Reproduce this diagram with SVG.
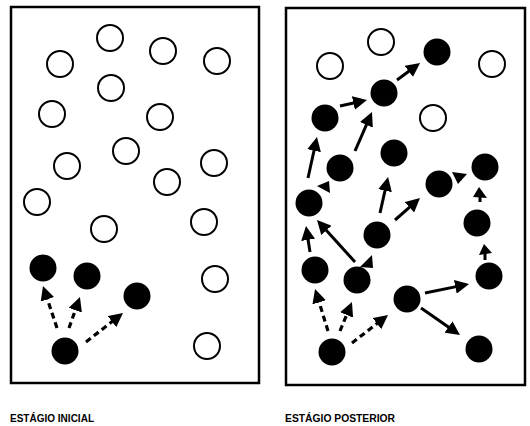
<svg xmlns="http://www.w3.org/2000/svg" width="530" height="426" viewBox="0 0 530 426">
<style>
.frame{fill:none;stroke:#000;stroke-width:2.5}
.o{fill:#fff;stroke:#000;stroke-width:2}
.f{fill:#000}
.s{stroke:#000;stroke-width:3;fill:none}
.d{stroke:#000;stroke-width:3.2;fill:none;stroke-dasharray:6 4}
.h{fill:#000}
.lbl{font-family:"Liberation Sans",Arial,sans-serif;font-weight:bold;font-size:10.5px;fill:#000}
</style>
<defs>
<marker id="ah" markerUnits="userSpaceOnUse" markerWidth="14" markerHeight="14" viewBox="0 0 14 14" refX="6" refY="7" orient="auto">
<path d="M0,0 L14,7 L0,14 z" fill="#000"/>
</marker>
</defs>
<g id="panel-inicial">
<rect class="frame" x="11" y="7" width="248" height="376"/>
</g>
<g id="panel-posterior">
<rect class="frame" x="286" y="8" width="239" height="377"/>
</g>
<g id="connectors">
<line class="d" x1="57" y1="328" x2="45.5" y2="293.6" marker-end="url(#ah)"/>
<line class="d" x1="69" y1="328" x2="77.3" y2="304.5" marker-end="url(#ah)"/>
<line class="d" x1="86" y1="342" x2="116.7" y2="317.9" marker-end="url(#ah)"/>
<line class="s" x1="340" y1="106" x2="359.2" y2="101.7" marker-end="url(#ah)"/>
<line class="s" x1="397" y1="80" x2="413.6" y2="67.8" marker-end="url(#ah)"/>
<line class="s" x1="355" y1="151" x2="368.8" y2="119.3" marker-end="url(#ah)"/>
<line class="s" x1="308" y1="178" x2="315.3" y2="144.8" marker-end="url(#ah)"/>
<polygon class="h" points="317,186 329,181 330,193"/>
<line class="s" x1="380" y1="213" x2="386.3" y2="184.8" marker-end="url(#ah)"/>
<line class="s" x1="395" y1="220" x2="414" y2="203.3" marker-end="url(#ah)"/>
<polygon class="h" points="452,172 467,174 458,184"/>
<polygon class="h" points="479,187 473,197 487,198"/>
<line class="s" x1="480" y1="196" x2="480" y2="202"/>
<polygon class="h" points="484,244 479,255 492,253"/>
<line class="s" x1="485" y1="253" x2="485" y2="260"/>
<line class="s" x1="310" y1="252" x2="307.2" y2="233.9" marker-end="url(#ah)"/>
<line class="s" x1="355" y1="262" x2="322.4" y2="225.9" marker-end="url(#ah)"/>
<polygon class="h" points="372,255 360,267 373,268"/>
<line class="s" x1="425" y1="293" x2="461.2" y2="285.6" marker-end="url(#ah)"/>
<line class="s" x1="421" y1="308" x2="453.4" y2="330.4" marker-end="url(#ah)"/>
<line class="d" x1="328" y1="331" x2="317.4" y2="296.6" marker-end="url(#ah)"/>
<line class="d" x1="340" y1="331" x2="348.9" y2="309.4" marker-end="url(#ah)"/>
<line class="d" x1="352" y1="343" x2="381.7" y2="319.9" marker-end="url(#ah)"/>
</g>
<g id="nodes-inicial">
<g id="L1"><circle class="o" cx="110" cy="38" r="13"/></g>
<g id="L2"><circle class="o" cx="163" cy="51" r="13"/></g>
<g id="L3"><circle class="o" cx="60" cy="64" r="13"/></g>
<g id="L4"><circle class="o" cx="217" cy="61" r="13"/></g>
<g id="L5"><circle class="o" cx="111" cy="88" r="13"/></g>
<g id="L6"><circle class="o" cx="52" cy="114" r="13"/></g>
<g id="L7"><circle class="o" cx="160" cy="117" r="13"/></g>
<g id="L8"><circle class="o" cx="126" cy="151" r="13"/></g>
<g id="L9"><circle class="o" cx="67" cy="166" r="13"/></g>
<g id="L10"><circle class="o" cx="214" cy="163" r="13"/></g>
<g id="L11"><circle class="o" cx="167" cy="182" r="13"/></g>
<g id="L12"><circle class="o" cx="37" cy="202" r="13"/></g>
<g id="L13"><circle class="o" cx="104" cy="229" r="13"/></g>
<g id="L14"><circle class="o" cx="204" cy="222" r="13"/></g>
<g id="L15"><circle class="o" cx="215" cy="279" r="13"/></g>
<g id="L16"><circle class="o" cx="207" cy="346" r="13"/></g>
<g id="L17"><circle class="f" cx="43" cy="268" r="13.5"/></g>
<g id="L18"><circle class="f" cx="87" cy="276" r="13.5"/></g>
<g id="L19"><circle class="f" cx="137" cy="296" r="13.5"/></g>
<g id="L20"><circle class="f" cx="65" cy="351" r="13.5"/></g>
</g>
<g id="nodes-posterior">
<g id="R1"><circle class="o" cx="381" cy="42" r="13"/></g>
<g id="R2"><circle class="o" cx="330" cy="66" r="13"/></g>
<g id="R3"><circle class="o" cx="492" cy="64" r="13"/></g>
<g id="R4"><circle class="o" cx="433" cy="118" r="13"/></g>
<g id="R5"><circle class="f" cx="437" cy="52" r="13.5"/></g>
<g id="R6"><circle class="f" cx="384" cy="93" r="13.5"/></g>
<g id="R7"><circle class="f" cx="325" cy="118" r="13.5"/></g>
<g id="R8"><circle class="f" cx="340" cy="168" r="13.5"/></g>
<g id="R9"><circle class="f" cx="394" cy="153" r="13.5"/></g>
<g id="R10"><circle class="f" cx="485" cy="167" r="13.5"/></g>
<g id="R11"><circle class="f" cx="439" cy="184" r="13.5"/></g>
<g id="R12"><circle class="f" cx="309" cy="203" r="13.5"/></g>
<g id="R13"><circle class="f" cx="377" cy="235" r="13.5"/></g>
<g id="R14"><circle class="f" cx="477" cy="223" r="13.5"/></g>
<g id="R15"><circle class="f" cx="315" cy="270" r="13.5"/></g>
<g id="R16"><circle class="f" cx="357" cy="280" r="13.5"/></g>
<g id="R17"><circle class="f" cx="489" cy="276" r="13.5"/></g>
<g id="R18"><circle class="f" cx="407" cy="299" r="13.5"/></g>
<g id="R19"><circle class="f" cx="332" cy="352" r="13.5"/></g>
<g id="R20"><circle class="f" cx="479" cy="349" r="13.5"/></g>
</g>
<g id="labels">
<text class="lbl" x="10" y="422" textLength="84" lengthAdjust="spacingAndGlyphs">ESTÁGIO INICIAL</text>
<text class="lbl" x="285" y="422" textLength="110" lengthAdjust="spacingAndGlyphs">ESTÁGIO POSTERIOR</text>
</g>
</svg>
